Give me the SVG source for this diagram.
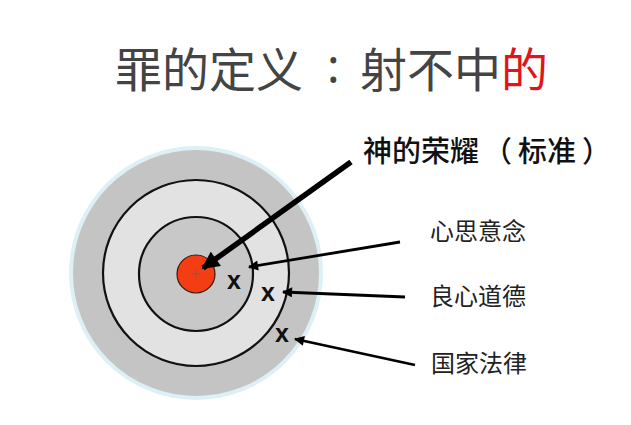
<svg xmlns="http://www.w3.org/2000/svg" width="631" height="425" viewBox="0 0 631 425">
<style>
.t{font-family:"Noto Sans CJK SC","Noto Sans",sans-serif;}
.ring{stroke:#111;stroke-width:2.2;}
.x{font-family:"Liberation Sans",Arial,sans-serif;font-weight:bold;font-size:25px;fill:#111;}
.c{stroke:#000;fill:none;}
.lbl{font-size:24px;font-weight:400;fill:#222;}
</style>
<defs>
<marker id="ah" viewBox="0 0 10 10" refX="9" refY="5" markerWidth="4" markerHeight="3.6" orient="auto" markerUnits="strokeWidth">
<path d="M0,0 L10,5 L0,10 z" fill="#000"/>
</marker>
<marker id="ahBig" viewBox="0 0 10 10" refX="9" refY="5" markerWidth="3.4" markerHeight="3.2" orient="auto" markerUnits="strokeWidth">
<path d="M0,0 L10,5 L0,10 z" fill="#000"/>
</marker>
</defs>
<rect width="631" height="425" fill="#fff"/>
<g id="title">
<text class="t" font-size="47" fill="#444" x="115" y="87">罪的定义<tspan x="327" y="83" style="font-family:'Noto Sans',sans-serif">:</tspan><tspan x="360" y="87">射不中</tspan><tspan fill="#e0141b">的</tspan></text>
</g>
<g id="target">
<circle cx="196" cy="273" r="125" fill="#c4c4c4" stroke="#dcf0f6" stroke-width="4"/>
<circle class="ring" cx="196" cy="273" r="93" fill="#e2e2e2"/>
<circle class="ring" cx="196" cy="274" r="57" fill="#c8c8c8"/>
<circle cx="196" cy="274" r="19" fill="#f43d12" stroke="#3a1a10" stroke-width="1.2"/>
<path d="M192,274 h8 M196,270 v8" stroke="#a05040" stroke-width="1"/>
<text class="x" x="234" y="289" text-anchor="middle">x</text>
<text class="x" x="268" y="301" text-anchor="middle">x</text>
<text class="x" x="282" y="342" text-anchor="middle">x</text>
</g>
<g id="connectors">
<line class="c" x1="351" y1="162" x2="203" y2="268" stroke-width="5.5" marker-end="url(#ahBig)"/>
<line class="c" x1="400" y1="242" x2="249" y2="267" stroke-width="2.8" marker-end="url(#ah)"/>
<line class="c" x1="405" y1="297" x2="283" y2="292" stroke-width="2.8" marker-end="url(#ah)"/>
<line class="c" x1="415" y1="365" x2="295" y2="339" stroke-width="2.8" marker-end="url(#ah)"/>
</g>
<g id="label-glory">
<text class="t" font-size="29" font-weight="500" fill="#111" x="363" y="162">神的荣耀<tspan x="483">（</tspan><tspan x="518">标准</tspan><tspan x="582">）</tspan></text>
</g>
<g id="label-heart">
<text class="t lbl" x="430" y="240">心思意念</text>
</g>
<g id="label-conscience">
<text class="t lbl" x="430" y="305">良心道德</text>
</g>
<g id="label-law">
<text class="t lbl" x="431" y="372">国家法律</text>
</g>
</svg>
